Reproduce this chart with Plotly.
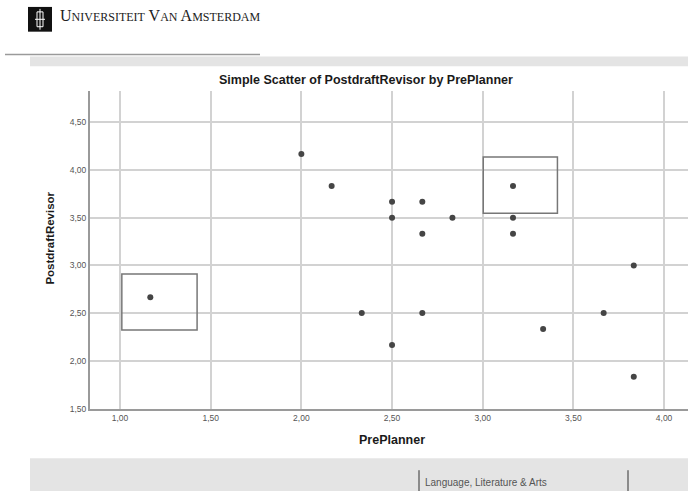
import plotly.graph_objects as go

# ---- data ----
pre_planner = [1.167, 2.0, 2.167, 2.333, 2.5, 2.5, 2.5, 2.667, 2.667, 2.667,
               2.833, 3.167, 3.167, 3.167, 3.333, 3.667, 3.833, 3.833]
postdraft_revisor = [2.667, 4.167, 3.833, 2.5, 3.667, 3.5, 2.167, 3.667, 3.333, 2.5,
                     3.5, 3.833, 3.5, 3.333, 2.333, 2.5, 3.0, 1.833]

x_tick_vals = [1.0, 1.5, 2.0, 2.5, 3.0, 3.5, 4.0]
x_tick_text = ["1,00", "1,50", "2,00", "2,50", "3,00", "3,50", "4,00"]
y_tick_vals = [1.5, 2.0, 2.5, 3.0, 3.5, 4.0, 4.5]
y_tick_text = ["1,50", "2,00", "2,50", "3,00", "3,50", "4,00", "4,50"]

# highlight boxes (data coordinates)
box_x0 = [1.010, 3.003]
box_x1 = [1.425, 3.412]
box_y0 = [2.323, 3.547]
box_y1 = [2.911, 4.135]

title_text = "Simple Scatter of PostdraftRevisor by PrePlanner"
x_title = "PrePlanner"
y_title = "PostdraftRevisor"
footer_text = "Language, Literature &amp; Arts"

W, H = 688, 496


def px(x):
    return x / W


def py(y):
    return 1 - y / H


fig = go.Figure()
fig.add_trace(go.Scatter(
    x=pre_planner, y=postdraft_revisor, mode="markers",
    marker=dict(color="#454545", size=6, line=dict(width=0)),
    hoverinfo="x+y", showlegend=False))

shapes = []
# top grey band and header line
shapes.append(dict(type="rect", xref="paper", yref="paper",
                   x0=px(30), x1=1, y0=py(67), y1=py(57),
                   fillcolor="#e4e4e4", line=dict(width=0), layer="below"))
shapes.append(dict(type="line", xref="paper", yref="paper",
                   x0=px(5), x1=px(260), y0=py(55), y1=py(55),
                   line=dict(color="#9a9a9a", width=1.5)))
# bottom grey band
shapes.append(dict(type="rect", xref="paper", yref="paper",
                   x0=px(30), x1=1, y0=0, y1=py(463),
                   fillcolor="#e4e4e4", line=dict(width=0), layer="below"))
shapes.append(dict(type="line", xref="paper", yref="paper",
                   x0=px(419), x1=px(419), y0=0, y1=py(475),
                   line=dict(color="#333333", width=1)))
shapes.append(dict(type="line", xref="paper", yref="paper",
                   x0=px(628), x1=px(628), y0=0, y1=py(475),
                   line=dict(color="#333333", width=1)))
# logo
shapes.append(dict(type="rect", xref="paper", yref="paper",
                   x0=px(28), x1=px(52), y0=py(32), y1=py(7),
                   fillcolor="#111111", line=dict(width=0)))
shapes.append(dict(type="rect", xref="paper", yref="paper",
                   x0=px(37), x1=px(43), y0=py(27), y1=py(12),
                   fillcolor="rgba(0,0,0,0)", line=dict(color="white", width=1)))
shapes.append(dict(type="line", xref="paper", yref="paper",
                   x0=px(40), x1=px(40), y0=py(30), y1=py(9),
                   line=dict(color="white", width=1)))
shapes.append(dict(type="line", xref="paper", yref="paper",
                   x0=px(35), x1=px(45), y0=py(19.5), y1=py(19.5),
                   line=dict(color="white", width=1)))

# highlight boxes
for a, b, c, d in zip(box_x0, box_x1, box_y0, box_y1):
    shapes.append(dict(type="rect", xref="x", yref="y", x0=a, x1=b, y0=c, y1=d,
                       line=dict(color="#777777", width=1.5),
                       fillcolor="rgba(0,0,0,0)", layer="above"))

annotations = [
    dict(text="<b>" + title_text + "</b>", xref="paper", yref="paper",
         x=px(366), y=py(81), showarrow=False, xanchor="center", yanchor="middle",
         font=dict(family="Liberation Sans, Arial", size=12.5, color="#1a1a1a")),
    dict(text="<b>" + x_title + "</b>", xref="paper", yref="paper",
         x=px(392), y=py(444), showarrow=False, xanchor="center", yanchor="middle",
         font=dict(family="Liberation Sans, Arial", size=12.5, color="#1a1a1a")),
    dict(text="<b>" + y_title + "</b>", xref="paper", yref="paper",
         x=px(50), y=py(241), showarrow=False, xanchor="center", yanchor="middle",
         textangle=-90,
         font=dict(family="Liberation Sans, Arial", size=11.5, color="#1a1a1a")),
    dict(text=footer_text, xref="paper", yref="paper",
         x=px(423), y=py(487), showarrow=False, xanchor="left", yanchor="middle",
         font=dict(family="Liberation Sans, Arial", size=10, color="#555555")),
    dict(text=("U<span style=\"font-size:12px\">NIVERSITEIT</span> "
               "V<span style=\"font-size:12px\">AN</span> "
               "A<span style=\"font-size:12px\">MSTERDAM</span>"),
         xref="paper", yref="paper", x=px(58), y=py(16), showarrow=False,
         xanchor="left", yanchor="middle",
         font=dict(family="Liberation Serif, Times New Roman", size=16, color="#222222")),
]

fig.update_layout(
    width=W, height=H,
    margin=dict(l=0, r=0, t=0, b=0),
    paper_bgcolor="white", plot_bgcolor="white",
    shapes=shapes, annotations=annotations,
    xaxis=dict(domain=[px(90), 1], range=[0.8345, 4.132],
               tickvals=x_tick_vals, ticktext=x_tick_text,
               showgrid=True, gridcolor="#d2d2d2", gridwidth=1.5,
               zeroline=False, showline=True, linecolor="#9a9a9a", linewidth=2,
               ticks="", ticklen=0,
               tickfont=dict(family="Liberation Sans, Arial", size=8.5, color="#555555")),
    yaxis=dict(domain=[py(412.7), py(92)], range=[1.5, 4.827],
               tickvals=y_tick_vals, ticktext=y_tick_text,
               showgrid=True, gridcolor="#d2d2d2", gridwidth=1.5,
               zeroline=False, showline=True, linecolor="#9a9a9a", linewidth=2,
               ticks="", ticklen=0,
               tickfont=dict(family="Liberation Sans, Arial", size=8.5, color="#555555")),
)

fig.write_html("out.html", config={"displayModeBar": False},
               post_script="document.body.style.margin='0';document.body.style.overflow='hidden';")
